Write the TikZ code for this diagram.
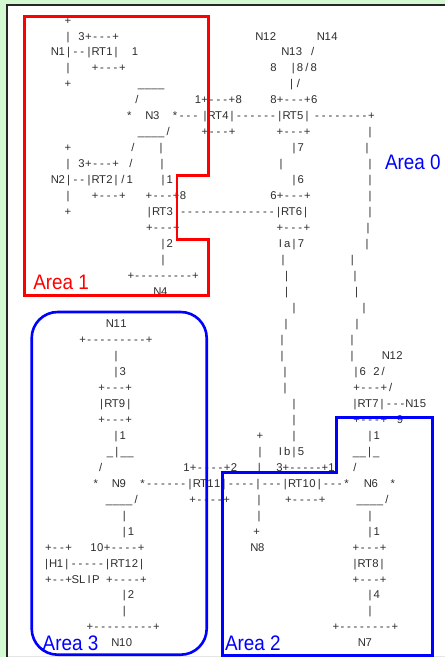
\documentclass[tikz,border=0pt]{standalone}
\usepackage{fontspec}
\usepackage{xcolor}
\usepackage{tikz}
\newfontfamily\asciifont{Liberation Sans}
\newfontfamily\areafont[FakeStretch=0.9]{Liberation Sans}
\definecolor{framegreen}{RGB}{210,249,208}
\definecolor{asciigray}{RGB}{45,45,45}
\definecolor{areared}{RGB}{255,0,0}
\definecolor{areablue}{RGB}{0,0,255}
% one fixed-width box per character
\newlength{\ascpitch}
\setlength{\ascpitch}{6.8pt}
\def\ascloop#1{\ifx#1\relax\else\makebox[\ascpitch]{#1}\expandafter\ascloop\fi}
\newcommand{\asc}[1]{\ascloop#1\relax}
\tikzset{
  % testo ASCII
  char pitch/.code={\setlength{\ascpitch}{#1}},
  ascii/.style={anchor=base west,inner sep=0pt,outer sep=0pt,text=asciigray,
    font=\asciifont\fontsize{11.3}{13}\selectfont,char pitch=6.8pt},
  % aree
  area label/.style={anchor=base west,inner sep=0pt,outer sep=0pt,
    font=\areafont\fontsize{21}{24}\selectfont},
  area red/.style={draw=areared,line width=2.7pt,line join=miter},
  area blue/.style={draw=areablue,line width=2.6pt,line join=miter}
}
\begin{document}
\begin{tikzpicture}[x=1pt,y=-1pt]
  \useasboundingbox (0,0) rectangle (445,657);
  % cornice
  \fill[framegreen] (0,0) rectangle (445,657);
  \fill[white] (7,5) rectangle (445,655.5);
  \fill[black!10] (7,655.5) rectangle (445,657);
  \draw[black!85,line width=1.6pt] (6.8,657) -- (6.8,5.2) -- (445,5.2);
  % righe 0-17
  \node[ascii] (l00a) at (64.6,24.0) {\asc{+}};
  \node[ascii] (l01a) at (64.6,40.0) {\asc{|~3+---+}};
  \node[ascii] (l01b) at (256.1,40.0) {\asc{N12}};
  \node[ascii] (l01c) at (317.6,40.0) {\asc{N14}};
  \node[ascii] (l02a) at (51.6,55.9) {\asc{N1|--|RT1|}};
  \node[ascii] (l02b) at (131.6,55.9) {\asc{1}};
  \node[ascii] (l02c) at (282.1,55.9) {\asc{N13~/}};
  \node[ascii] (l03a) at (64.6,71.9) {\asc{|~~~+---+}};
  \node[ascii] (l03b) at (270.1,71.9) {\asc{8}};
  \node[ascii] (l03c) at (289.9,71.9) {\asc{|8/8}};
  \node[ascii] (l04a) at (64.6,87.9) {\asc{+}};
  \node[ascii] (l04b) at (137.6,87.9) {\asc{\_\_\_\_}};
  \node[ascii] (l04c) at (288.3,87.9) {\asc{|/}};
  \node[ascii] (l05a) at (133.6,103.9) {\asc{/}};
  \node[ascii] (l05b) at (194.6,103.9) {\asc{1+---+8}};
  \node[ascii] (l05c) at (270.1,103.9) {\asc{8+---+6}};
  \node[ascii] (l06a) at (125.9,119.8) {\asc{*}};
  \node[ascii] (l06b) at (146.1,119.8) {\asc{N3}};
  \node[ascii] (l06c) at (171.6,119.8) {\asc{*---}};
  \node[ascii] (l06d) at (201.6,119.8) {\asc{|RT4|------|RT5|}};
  \node[ascii] (l06e) at (313.6,119.8) {\asc{--------+}};
  \node[ascii] (l07a) at (137.6,135.8) {\asc{\_\_\_\_/}};
  \node[ascii] (l07b) at (201.6,135.8) {\asc{+---+}};
  \node[ascii] (l07c) at (276.6,135.8) {\asc{+---+}};
  \node[ascii] (l07d) at (366.6,135.8) {\asc{|}};
  \node[ascii] (l08a) at (64.6,151.8) {\asc{+}};
  \node[ascii] (l08b) at (129.6,151.8) {\asc{/}};
  \node[ascii] (l08c) at (157.6,151.8) {\asc{|}};
  \node[ascii] (l08d) at (290.6,151.8) {\asc{|7}};
  \node[ascii] (l08e) at (363.6,151.8) {\asc{|}};
  \node[ascii] (l09a) at (64.6,167.7) {\asc{|~3+---+}};
  \node[ascii] (l09b) at (127.6,167.7) {\asc{/}};
  \node[ascii] (l09c) at (158.6,167.7) {\asc{|}};
  \node[ascii] (l09d) at (277.6,167.7) {\asc{|}};
  \node[ascii] (l09e) at (366.6,167.7) {\asc{|}};
  \node[ascii] (l10a) at (51.6,183.7) {\asc{N2|--|RT2|/1}};
  \node[ascii] (l10b) at (159.6,183.7) {\asc{|1}};
  \node[ascii] (l10c) at (290.6,183.7) {\asc{|6}};
  \node[ascii] (l10d) at (366.6,183.7) {\asc{|}};
  \node[ascii] (l11a) at (64.6,199.7) {\asc{|~~~+---+}};
  \node[ascii] (l11b) at (145.6,199.7) {\asc{+---+8}};
  \node[ascii] (l11c) at (270.1,199.7) {\asc{6+---+}};
  \node[ascii] (l11d) at (366.6,199.7) {\asc{|}};
  \node[ascii] (l12a) at (64.6,215.6) {\asc{+}};
  \node[ascii] (l12b) at (145.9,215.6) {\asc{|RT3|--------------|RT6|}};
  \node[ascii] (l12c) at (366.6,215.6) {\asc{|}};
  \node[ascii] (l13a) at (145.9,231.6) {\asc{+---+}};
  \node[ascii] (l13b) at (276.4,231.6) {\asc{+---+}};
  \node[ascii] (l13c) at (364.6,231.6) {\asc{|}};
  \node[ascii] (l14a) at (159.6,247.6) {\asc{|2}};
  \node[ascii] (l14b) at (277.1,247.6) {\asc{Ia|7}};
  \node[ascii] (l14c) at (363.6,247.6) {\asc{|}};
  \node[ascii] (l15a) at (159.6,263.6) {\asc{|}};
  \node[ascii] (l15b) at (279.6,263.6) {\asc{|}};
  \node[ascii] (l15c) at (348.9,263.6) {\asc{|}};
  \node[ascii,char pitch=6.47pt] (l16a) at (127.6,279.5) {\asc{+---------+}};
  \node[ascii] (l16b) at (283.3,279.5) {\asc{|}};
  \node[ascii] (l16c) at (351.6,279.5) {\asc{|}};
  \node[ascii] (l17a) at (154.1,295.5) {\asc{N4}};
  \node[ascii] (l17b) at (283.3,295.5) {\asc{|}};
  \node[ascii] (l17c) at (353.3,295.5) {\asc{|}};
  % righe 18-28
  \node[ascii] (l18a) at (290.6,311.5) {\asc{|}};
  \node[ascii] (l18b) at (360.6,311.5) {\asc{|}};
  \node[ascii] (l19a) at (106.6,327.4) {\asc{N11}};
  \node[ascii] (l19b) at (282.6,327.4) {\asc{|}};
  \node[ascii] (l19c) at (353.6,327.4) {\asc{|}};
  \node[ascii,char pitch=6.66pt] (l20a) at (79.3,343.4) {\asc{+---------+}};
  \node[ascii] (l20b) at (278.6,343.4) {\asc{|}};
  \node[ascii] (l20c) at (348.6,343.4) {\asc{|}};
  \node[ascii] (l21a) at (112.6,359.4) {\asc{|}};
  \node[ascii] (l21b) at (278.6,359.4) {\asc{|}};
  \node[ascii] (l21c) at (348.6,359.4) {\asc{|}};
  \node[ascii] (l21d) at (382.6,359.4) {\asc{N12}};
  \node[ascii] (l22a) at (112.6,375.3) {\asc{|3}};
  \node[ascii] (l22b) at (281.6,375.3) {\asc{|}};
  \node[ascii] (l22c) at (352.6,375.3) {\asc{|6~2/}};
  \node[ascii] (l23a) at (98.2,391.3) {\asc{+---+}};
  \node[ascii] (l23b) at (281.6,391.3) {\asc{|}};
  \node[ascii] (l23c) at (353.2,391.3) {\asc{+---+/}};
  \node[ascii] (l24a) at (98.3,407.3) {\asc{|RT9|}};
  \node[ascii] (l24b) at (290.6,407.3) {\asc{|}};
  \node[ascii] (l24c) at (351.6,407.3) {\asc{|RT7|---N15}};
  \node[ascii] (l25a) at (98.2,423.3) {\asc{+---+}};
  \node[ascii] (l25b) at (290.6,423.3) {\asc{|}};
  \node[ascii] (l25c) at (353.2,423.3) {\asc{+---+}};
  \node[ascii] (l25d) at (396.6,423.3) {\asc{9}};
  \node[ascii] (l26a) at (112.6,439.2) {\asc{|1}};
  \node[ascii] (l26b) at (256.6,439.2) {\asc{+}};
  \node[ascii] (l26c) at (290.6,439.2) {\asc{|}};
  \node[ascii] (l26d) at (366.6,439.2) {\asc{|1}};
  \node[ascii] (l27a) at (106.7,455.2) {\asc{\_|\_\_}};
  \node[ascii] (l27b) at (256.6,455.2) {\asc{|}};
  \node[ascii] (l27c) at (277.1,455.2) {\asc{Ib|5}};
  \node[ascii] (l27d) at (352.5,455.2) {\asc{\_\_|\_}};
  \node[ascii] (l28a) at (97.3,471.2) {\asc{/}};
  \node[ascii] (l28b) at (183.1,471.2) {\asc{1+----+2}};
  \node[ascii] (l28c) at (255.9,471.2) {\asc{|}};
  \node[ascii,char pitch=6.5pt] (l28d) at (276.25,471.2) {\asc{3+-----+1}};
  \node[ascii] (l28e) at (351.6,471.2) {\asc{/}};
  % righe 29-39
  \node[ascii] (l29a) at (92.3,487.1) {\asc{*}};
  \node[ascii] (l29b) at (112.6,487.1) {\asc{N9}};
  \node[ascii] (l29c) at (139.1,487.1) {\asc{*------|RT11|----|---|RT10|---*}};
  \node[ascii] (l29d) at (364.6,487.1) {\asc{N6}};
  \node[ascii] (l29e) at (389.3,487.1) {\asc{*}};
  \node[ascii] (l30a) at (105.6,503.1) {\asc{\_\_\_\_/}};
  \node[ascii] (l30b) at (189.2,503.1) {\asc{+----+}};
  \node[ascii] (l30c) at (255.6,503.1) {\asc{|}};
  \node[ascii] (l30d) at (284.9,503.1) {\asc{+----+}};
  \node[ascii] (l30e) at (356.3,503.1) {\asc{\_\_\_\_/}};
  \node[ascii] (l31a) at (120.9,519.1) {\asc{|}};
  \node[ascii] (l31b) at (255.6,519.1) {\asc{|}};
  \node[ascii] (l31c) at (366.6,519.1) {\asc{|}};
  \node[ascii] (l32a) at (120.9,535.0) {\asc{|1}};
  \node[ascii] (l32b) at (253.3,535.0) {\asc{+}};
  \node[ascii] (l32c) at (366.6,535.0) {\asc{|1}};
  \node[ascii] (l33a) at (44.9,551.0) {\asc{+--+}};
  \node[ascii] (l33b) at (90.1,551.0) {\asc{10+----+}};
  \node[ascii] (l33c) at (251.1,551.0) {\asc{N8}};
  \node[ascii] (l33d) at (352.6,551.0) {\asc{+---+}};
  \node[ascii] (l34a) at (43.1,567.0) {\asc{|H1|-----|RT12|}};
  \node[ascii] (l34b) at (351.6,567.0) {\asc{|RT8|}};
  \node[ascii] (l35a) at (44.9,583.0) {\asc{+--+SLIP~+----+}};
  \node[ascii] (l35b) at (352.6,583.0) {\asc{+---+}};
  \node[ascii] (l36a) at (120.9,598.9) {\asc{|2}};
  \node[ascii] (l36b) at (366.6,598.9) {\asc{|4}};
  \node[ascii] (l37a) at (120.9,614.9) {\asc{|}};
  \node[ascii] (l37b) at (366.6,614.9) {\asc{|}};
  \node[ascii,char pitch=6.66pt] (l38a) at (86.6,630.9) {\asc{+---------+}};
  \node[ascii,char pitch=6.55pt] (l38b) at (332.6,630.9) {\asc{+--------+}};
  \node[ascii] (l39a) at (112.1,646.8) {\asc{N10}};
  \node[ascii] (l39b) at (358.6,646.8) {\asc{N7}};
  % confini delle aree
  \draw[area red] (24.7,16.3) -- (208.3,16.3) -- (208.3,175.5) -- (177,175.5)
    -- (177,239.5) -- (208.3,239.5) -- (208.3,295.3) -- (24.7,295.3) -- cycle;
  \draw[area blue,rounded corners=26pt] (31.7,312) rectangle (206.7,654.7);
  \draw[area blue,line width=3pt] (222.8,472.5) -- (336.2,472.5) -- (336.2,417)
    -- (432.2,417) -- (432.2,655) -- (222.8,655) -- cycle;
  \node[area label,text=areared] (area1) at (33.3,289.5) {Area 1};
  \node[area label,text=areablue] (area0) at (385,169.3) {Area 0};
  \node[area label,text=areablue] (area3) at (42.7,650) {Area 3};
  \node[area label,text=areablue] (area2) at (225,650) {Area 2};
\end{tikzpicture}
\end{document}
